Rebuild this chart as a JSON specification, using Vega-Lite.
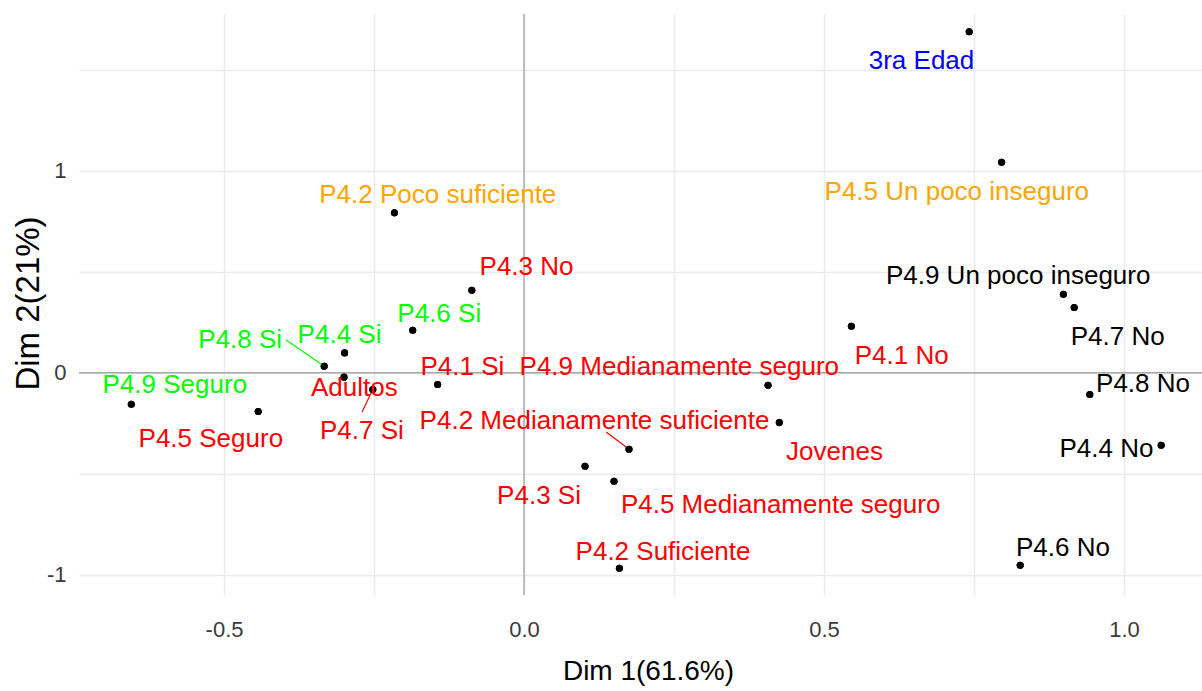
{
  "$schema": "https://vega.github.io/schema/vega-lite/v6.json",
  "width": 1123,
  "height": 581,
  "autosize": {"type": "none"},
  "padding": {"left": 79, "top": 14, "right": 0, "bottom": 96},
  "background": "white",
  "config": {"view": {"stroke": null}, "font": "Liberation Sans"},
  "datasets": {
    "pts": [
      {"cat": "3ra Edad", "grupo": "5", "x": 0.742, "y": 1.687, "lx": 0.6625, "ly": 1.501},
      {"cat": "P4.5 Un poco inseguro", "grupo": "3", "x": 0.796, "y": 1.041, "lx": 0.7213, "ly": 0.8564},
      {"cat": "P4.2 Poco suficiente", "grupo": "3", "x": -0.216, "y": 0.791, "lx": -0.1437, "ly": 0.8376},
      {"cat": "P4.3 No", "grupo": "2", "x": -0.087, "y": 0.408, "lx": 0.0042, "ly": 0.4827},
      {"cat": "P4.6 Si", "grupo": "4", "x": -0.1855, "y": 0.21, "lx": -0.1413, "ly": 0.2515},
      {"cat": "P4.4 Si", "grupo": "4", "x": -0.299, "y": 0.098, "lx": -0.3075, "ly": 0.1446},
      {"cat": "P4.8 Si", "grupo": "4", "x": -0.333, "y": 0.032, "lx": -0.473, "ly": 0.1198, "sx": -0.397, "sy": 0.163},
      {"cat": "Adultos", "grupo": "2", "x": -0.3, "y": -0.022, "lx": -0.2828, "ly": -0.1163},
      {"cat": "P4.7 Si", "grupo": "2", "x": -0.252, "y": -0.083, "lx": -0.2703, "ly": -0.3257, "sx": -0.27, "sy": -0.194},
      {"cat": "P4.1 Si", "grupo": "2", "x": -0.144, "y": -0.058, "lx": -0.1028, "ly": -0.0124},
      {"cat": "P4.9 Seguro", "grupo": "4", "x": -0.6545, "y": -0.156, "lx": -0.582, "ly": -0.1015},
      {"cat": "P4.5 Seguro", "grupo": "2", "x": -0.443, "y": -0.192, "lx": -0.522, "ly": -0.367},
      {"cat": "P4.9 Medianamente seguro", "grupo": "2", "x": 0.4067, "y": -0.062, "lx": 0.2588, "ly": -0.0124},
      {"cat": "Jovenes", "grupo": "2", "x": 0.4255, "y": -0.247, "lx": 0.5175, "ly": -0.4332},
      {"cat": "P4.2 Medianamente suficiente", "grupo": "2", "x": 0.175, "y": -0.379, "lx": 0.1175, "ly": -0.2763, "sx": 0.137, "sy": -0.293},
      {"cat": "P4.3 Si", "grupo": "2", "x": 0.1017, "y": -0.463, "lx": 0.025, "ly": -0.6476},
      {"cat": "P4.5 Medianamente seguro", "grupo": "2", "x": 0.15, "y": -0.537, "lx": 0.4277, "ly": -0.694},
      {"cat": "P4.2 Suficiente", "grupo": "2", "x": 0.159, "y": -0.968, "lx": 0.2317, "ly": -0.9282},
      {"cat": "P4.1 No", "grupo": "2", "x": 0.5456, "y": 0.23, "lx": 0.6295, "ly": 0.0455},
      {"cat": "P4.9 Un poco inseguro", "grupo": "1", "x": 0.899, "y": 0.3886, "lx": 0.8236, "ly": 0.4366},
      {"cat": "P4.7 No", "grupo": "1", "x": 0.917, "y": 0.323, "lx": 0.9895, "ly": 0.1361},
      {"cat": "P4.8 No", "grupo": "1", "x": 0.943, "y": -0.108, "lx": 1.0317, "ly": -0.095},
      {"cat": "P4.4 No", "grupo": "1", "x": 1.062, "y": -0.359, "lx": 0.9708, "ly": -0.4168},
      {"cat": "P4.6 No", "grupo": "1", "x": 0.827, "y": -0.953, "lx": 0.8983, "ly": -0.9084}
    ]
  },
  "layer": [
    {
      "data": {"name": "pts"},
      "mark": {"type": "circle", "size": 50, "opacity": 1, "color": "#000000"},
      "encoding": {
        "x": {
          "field": "x", "type": "quantitative",
          "scale": {"domain": [-0.7417, 1.13], "nice": false, "zero": false},
          "axis": {
            "values": [-0.5, -0.25, 0, 0.25, 0.5, 0.75, 1],
            "labelExpr": "datum.value == -0.5 ? '-0.5' : datum.value == 0 ? '0.0' : datum.value == 0.5 ? '0.5' : datum.value == 1 ? '1.0' : ''",
            "grid": true, "gridColor": "#EBEBEB", "gridWidth": 1.5,
            "ticks": false, "domain": false,
            "labelFont": "Liberation Sans", "labelFontSize": 22, "labelColor": "#3A3A3A",
            "labelPadding": 24, "labelFlush": false, "labelOverlap": false,
            "title": "Dim 1(61.6%)", "titleFont": "Liberation Sans", "titleFontSize": 28,
            "titleFontWeight": "normal", "titleColor": "#000000",
            "titleX": 569, "titleY": 84, "titleBaseline": "alphabetic", "titleAlign": "center"
          }
        },
        "y": {
          "field": "y", "type": "quantitative",
          "scale": {"domain": [-1.1, 1.775], "nice": false, "zero": false},
          "axis": {
            "values": [-1, -0.5, 0, 0.5, 1, 1.5],
            "labelExpr": "datum.value == -1 ? '-1' : datum.value == 0 ? '0' : datum.value == 1 ? '1' : ''",
            "grid": true, "gridColor": "#EBEBEB", "gridWidth": 1.5,
            "ticks": false, "domain": false,
            "labelFont": "Liberation Sans", "labelFontSize": 22, "labelColor": "#3A3A3A",
            "labelPadding": 13, "labelFlush": false, "labelOverlap": false,
            "title": "Dim 2(21%)", "titleFont": "Liberation Sans", "titleFontSize": 33,
            "titleFontWeight": "normal", "titleColor": "#000000",
            "titleAngle": 270, "titleX": -41, "titleY": 289, "titleBaseline": "alphabetic", "titleAlign": "center"
          }
        }
      }
    },
    {
      "data": {"values": [{"v": 0}]},
      "mark": {"type": "rule", "color": "#A8A8A8", "strokeWidth": 1.4},
      "encoding": {"x": {"field": "v", "type": "quantitative"}}
    },
    {
      "data": {"values": [{"v": 0}]},
      "mark": {"type": "rule", "color": "#A8A8A8", "strokeWidth": 1.4},
      "encoding": {"y": {"field": "v", "type": "quantitative"}}
    },
    {
      "data": {"name": "pts"},
      "transform": [{"filter": "isValid(datum.sx)"}],
      "mark": {"type": "rule", "strokeWidth": 1.2},
      "encoding": {
        "x": {"field": "sx", "type": "quantitative"},
        "y": {"field": "sy", "type": "quantitative"},
        "x2": {"field": "x"},
        "y2": {"field": "y"},
        "color": {"field": "grupo", "type": "nominal", "scale": {"domain": ["1", "2", "3", "4", "5"], "range": ["#000000", "#FF0000", "#FFA500", "#00FF00", "#0000FF"]}, "legend": null}
      }
    },
    {
      "data": {"name": "pts"},
      "mark": {"type": "circle", "size": 50, "opacity": 1, "color": "#000000"},
      "encoding": {
        "x": {"field": "x", "type": "quantitative"},
        "y": {"field": "y", "type": "quantitative"}
      }
    },
    {
      "data": {"name": "pts"},
      "mark": {"type": "text", "align": "center", "baseline": "alphabetic", "font": "Liberation Sans", "fontSize": 26},
      "encoding": {
        "x": {"field": "lx", "type": "quantitative"},
        "y": {"field": "ly", "type": "quantitative"},
        "text": {"field": "cat"},
        "color": {"field": "grupo", "type": "nominal", "scale": {"domain": ["1", "2", "3", "4", "5"], "range": ["#000000", "#FF0000", "#FFA500", "#00FF00", "#0000FF"]}, "legend": null}
      }
    }
  ]
}
